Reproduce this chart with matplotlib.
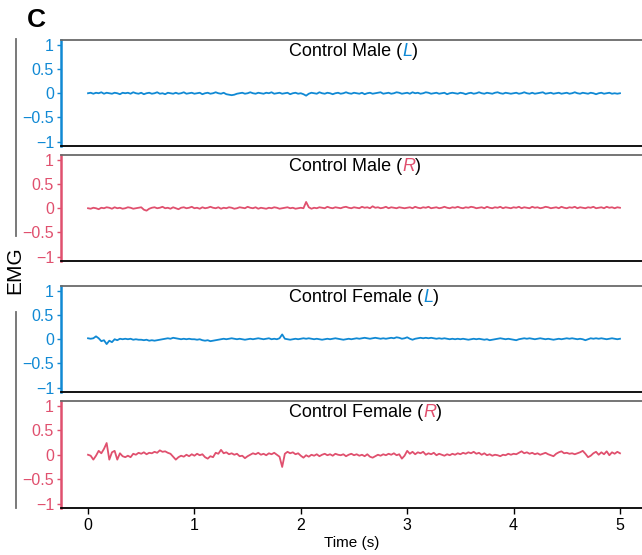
import numpy as np
import matplotlib
matplotlib.use("Agg")
import matplotlib.pyplot as plt
from matplotlib.lines import Line2D

plt.rcParams["font.family"] = ["Liberation Sans", "DejaVu Sans"]

# EMG traces, 5 s sampled every 25 ms
male_L = [
    0.00, 0.01, -0.01, 0.01, 0.00, 0.02, -0.01, 0.01, 0.00, -0.01, 0.01, 0.00, -0.02, 0.01, 0.00, 0.01, -0.01, 0.02, 0.00, -0.01,
    0.01, -0.02, 0.00, 0.01, -0.01, 0.00, 0.02, -0.01, 0.00, -0.02, 0.01, 0.00, -0.01, 0.01, -0.01, 0.00, 0.02, -0.01, 0.00, 0.01,
    -0.01, 0.00, 0.01, -0.02, 0.00, 0.01, -0.01, 0.00, 0.02, 0.00, -0.01, 0.01, -0.02, -0.03, -0.04, -0.03, -0.01, 0.00, 0.01, -0.01,
    0.00, 0.02, 0.00, -0.01, 0.01, 0.00, -0.01, 0.01, 0.00, 0.02, -0.01, 0.00, 0.01, -0.01, 0.00, 0.01, -0.02, 0.00, 0.01, -0.01,
    0.00, -0.02, -0.05, -0.01, 0.01, 0.00, -0.01, 0.02, 0.00, -0.01, 0.01, 0.00, -0.02, 0.00, 0.01, -0.01, 0.00, 0.02, 0.00, -0.01,
    0.01, 0.00, -0.01, 0.01, -0.02, 0.00, 0.01, -0.01, 0.00, 0.01, 0.02, -0.01, 0.00, 0.01, -0.01, 0.00, 0.02, 0.01, -0.01, 0.00,
    0.01, -0.01, 0.02, 0.00, 0.01, -0.01, 0.00, 0.02, 0.01, -0.01, 0.00, 0.01, -0.01, 0.00, 0.01, -0.02, 0.00, 0.01, 0.00, -0.01,
    0.01, 0.00, -0.02, 0.00, 0.01, -0.01, 0.00, 0.02, 0.00, -0.01, 0.01, 0.00, -0.01, 0.01, 0.02, 0.00, -0.01, 0.01, 0.00, -0.01,
    0.00, 0.01, -0.01, 0.00, 0.02, 0.00, -0.01, 0.01, -0.01, 0.00, 0.01, 0.02, -0.01, 0.00, 0.01, -0.01, 0.00, 0.01, -0.01, 0.00,
    0.01, -0.01, 0.00, 0.02, 0.00, -0.01, 0.01, 0.00, -0.01, 0.01, 0.00, -0.02, 0.00, 0.01, -0.01, 0.00, 0.01, -0.01, 0.00, -0.01,
    0.00,
]
male_R = [
    0.00, -0.01, 0.01, 0.00, -0.02, 0.01, 0.00, 0.02, 0.01, -0.01, 0.02, 0.00, 0.01, -0.01, 0.00, 0.02, 0.01, -0.01, 0.00, 0.01,
    0.02, -0.03, -0.05, -0.01, 0.01, 0.02, 0.00, 0.01, 0.03, 0.00, 0.01, -0.01, 0.02, 0.00, -0.02, 0.01, 0.02, 0.00, 0.01, 0.03,
    0.00, 0.01, -0.01, 0.02, 0.00, 0.01, 0.03, 0.01, 0.00, 0.02, -0.01, 0.01, 0.00, 0.02, 0.01, -0.01, 0.00, 0.02, 0.01, 0.00,
    0.03, 0.01, 0.00, 0.02, -0.01, 0.01, 0.00, -0.01, 0.01, 0.00, 0.02, 0.01, -0.01, 0.00, 0.01, 0.02, 0.00, 0.01, -0.01, 0.00,
    0.01, 0.00, 0.13, 0.02, -0.01, 0.01, 0.00, 0.02, 0.01, 0.00, 0.03, 0.01, 0.00, 0.02, 0.01, 0.00, 0.02, 0.03, 0.01, 0.00,
    0.02, 0.01, 0.00, 0.03, 0.01, 0.02, 0.00, 0.04, 0.01, 0.02, 0.00, 0.01, 0.03, 0.00, 0.02, 0.01, 0.00, 0.02, 0.01, 0.00,
    0.01, 0.02, 0.00, 0.03, 0.01, 0.00, 0.02, 0.01, 0.03, 0.00, 0.01, 0.02, 0.00, 0.01, 0.03, 0.01, 0.00, 0.02, 0.01, 0.03,
    0.01, 0.00, 0.02, 0.01, 0.03, 0.02, 0.00, 0.01, 0.02, 0.00, 0.03, 0.01, 0.00, 0.02, 0.01, 0.03, 0.00, 0.02, 0.01, 0.00,
    0.02, 0.01, 0.03, 0.00, 0.02, 0.01, 0.00, 0.03, 0.01, 0.02, 0.00, 0.01, 0.03, 0.02, 0.00, 0.01, 0.02, 0.00, 0.03, 0.01,
    0.00, 0.02, 0.01, 0.03, 0.00, 0.02, 0.01, 0.00, 0.02, 0.01, 0.03, 0.00, 0.01, 0.02, 0.00, 0.03, 0.01, 0.02, 0.00, 0.02,
    0.01,
]
female_L = [
    0.02, 0.01, 0.02, 0.06, 0.02, -0.04, -0.02, -0.10, -0.03, -0.06, 0.00, -0.02, 0.01, 0.00, 0.01, 0.00, 0.01, -0.01, 0.00, -0.01,
    -0.01, -0.02, -0.01, -0.03, -0.02, -0.03, -0.02, -0.01, 0.00, 0.01, 0.02, 0.01, 0.03, 0.02, 0.01, 0.00, 0.01, 0.00, 0.01, 0.00,
    0.00, -0.01, 0.00, -0.02, -0.03, -0.02, -0.04, -0.03, -0.02, -0.01, 0.00, 0.01, 0.00, 0.01, 0.02, 0.01, 0.00, 0.01, 0.00, -0.01,
    0.00, 0.01, 0.00, 0.01, 0.02, 0.01, 0.00, 0.01, 0.02, 0.00, 0.01, 0.00, 0.02, 0.10, 0.01, 0.00, -0.01, 0.00, 0.01, 0.00,
    0.01, 0.02, 0.01, 0.02, 0.01, 0.00, 0.01, 0.00, -0.01, 0.00, 0.01, 0.00, 0.01, 0.02, 0.01, 0.00, -0.01, 0.00, 0.01, 0.00,
    0.01, 0.02, 0.01, 0.02, 0.03, 0.02, 0.01, 0.02, 0.03, 0.02, 0.01, 0.02, 0.01, 0.02, 0.03, 0.02, 0.04, 0.03, 0.01, 0.02,
    0.04, 0.01, -0.01, 0.01, 0.02, 0.03, 0.02, 0.03, 0.02, 0.03, 0.02, 0.01, 0.02, 0.01, 0.02, 0.01, 0.00, 0.01, 0.00, 0.01,
    0.00, 0.01, 0.00, -0.01, 0.00, 0.01, 0.00, 0.01, 0.00, -0.01, 0.00, -0.02, -0.01, 0.00, 0.01, 0.02, 0.01, 0.00, 0.01, 0.00,
    -0.01, -0.02, 0.00, 0.01, 0.02, 0.01, 0.02, 0.01, 0.00, 0.01, 0.02, 0.01, 0.00, 0.01, 0.00, -0.01, 0.00, 0.01, 0.00, 0.01,
    0.02, 0.01, 0.02, 0.01, 0.00, 0.01, 0.00, -0.02, 0.00, 0.02, 0.01, 0.02, 0.01, 0.02, 0.01, 0.00, 0.01, 0.02, 0.01, 0.00,
    0.01,
]
female_R = [
    0.00, -0.02, -0.10, -0.02, 0.08, 0.03, 0.12, 0.24, -0.10, 0.05, 0.08, -0.10, 0.03, -0.03, -0.05, -0.02, -0.05, 0.02, 0.00, 0.04,
    0.02, 0.05, 0.01, 0.04, 0.03, 0.06, 0.04, 0.09, 0.06, 0.07, 0.04, 0.02, -0.04, -0.10, -0.05, -0.02, -0.04, 0.00, -0.03, 0.01,
    -0.02, 0.02, -0.01, 0.01, -0.05, -0.08, -0.03, -0.05, 0.04, 0.02, 0.10, 0.03, 0.05, 0.01, 0.03, 0.00, 0.02, -0.03, -0.02, -0.07,
    -0.03, 0.00, 0.03, 0.01, 0.04, 0.00, 0.02, -0.01, 0.03, 0.01, 0.04, 0.00, -0.04, -0.25, 0.02, 0.06, 0.03, 0.05, 0.01, 0.03,
    -0.02, -0.06, -0.01, -0.04, 0.00, -0.02, 0.01, -0.03, 0.00, 0.02, -0.01, 0.01, -0.02, 0.02, 0.00, -0.01, 0.01, -0.03, 0.00, 0.02,
    -0.01, 0.01, -0.02, 0.00, -0.03, 0.01, -0.04, -0.06, -0.03, 0.00, -0.02, 0.01, -0.01, 0.02, 0.00, 0.03, -0.01, 0.01, -0.08, -0.02,
    0.08, 0.02, 0.06, 0.01, 0.05, 0.03, 0.06, 0.00, 0.03, 0.01, 0.04, -0.01, 0.02, 0.00, -0.02, 0.01, -0.01, 0.02, 0.00, 0.03,
    0.01, 0.04, 0.02, 0.05, 0.03, 0.06, 0.02, 0.04, 0.00, 0.03, -0.01, 0.01, -0.02, 0.00, -0.01, -0.03, 0.00, -0.01, 0.02, 0.00,
    0.02, 0.01, 0.04, 0.07, 0.03, 0.05, 0.02, 0.04, 0.01, 0.03, 0.00, 0.02, 0.04, 0.01, -0.01, -0.03, 0.02, 0.05, 0.07, 0.03,
    0.04, 0.02, 0.03, 0.01, 0.03, 0.05, 0.08, 0.02, -0.05, -0.02, 0.03, 0.06, 0.00, 0.05, 0.01, 0.07, -0.01, 0.05, 0.02, 0.06,
    0.03,
]

blue = "#1089d4"
red = "#e0506e"

panels = [
    ("Control Male (", "L", male_L, blue, 40, 146),
    ("Control Male (", "R", male_R, red, 155, 261),
    ("Control Female (", "L", female_L, blue, 286, 392),
    ("Control Female (", "R", female_R, red, 401, 508),
]

W, H = 642, 555
fig = plt.figure(figsize=(W / 100, H / 100), dpi=100)

for k, (label, side, sig, col, top, bot) in enumerate(panels):
    ax = fig.add_axes([61 / W, 1 - bot / H, (W - 61) / W, (bot - top) / H])
    t = np.linspace(0, 5, len(sig))
    ax.plot(t, sig, color=col, lw=1.3)
    ax.set_xlim(-0.254, 5.207)
    ax.set_ylim(-1.09, 1.1)
    ax.set_yticks([-1, -0.5, 0, 0.5, 1])
    ax.set_yticklabels(["\u22121", "\u22120.5", "0", "0.5", "1"])

    ax.spines["right"].set_visible(False)
    ax.spines["left"].set_color(col)
    ax.spines["left"].set_linewidth(1.8)
    ax.spines["top"].set_color("#6a6a6a")
    ax.spines["top"].set_linewidth(1.3)
    ax.spines["bottom"].set_color("black")
    ax.spines["bottom"].set_linewidth(1.3)
    ax.tick_params(axis="y", colors=col, labelsize=11.5, length=3, width=1, pad=2)

    if k == 3:
        ax.set_xticks([0, 1, 2, 3, 4, 5])
        ax.tick_params(axis="x", labelsize=11.5, length=4, width=1, pad=3)
        ax.set_xlabel("Time (s)", fontsize=11, labelpad=2)
    else:
        ax.set_xticks([])

    # title with the side letter in italics and in the trace colour
    t1 = ax.text(0.392, 0.815, label, transform=ax.transAxes, fontsize=13, va="bottom")
    t2 = ax.annotate(side, xy=(1, 0), xycoords=t1, va="bottom", fontsize=13,
                     style="italic", color=col)
    ax.annotate(")", xy=(1, 0), xycoords=t2, va="bottom", fontsize=13)

# shared y label with bracket lines
fig.add_artist(Line2D([15.5 / W, 15.5 / W], [1 - 39 / H, 1 - 236 / H], color="#6e6e6e", lw=1.3))
fig.add_artist(Line2D([15.5 / W, 15.5 / W], [1 - 312 / H, 1 - 508 / H], color="#6e6e6e", lw=1.3))
fig.text(15 / W, 1 - 270 / H, "EMG", rotation=90, fontsize=15, ha="center", va="center")

fig.text(27 / W, 1 - 27 / H, "C", fontsize=19, fontweight="bold", va="baseline")

fig.savefig("out.png", dpi=100)
